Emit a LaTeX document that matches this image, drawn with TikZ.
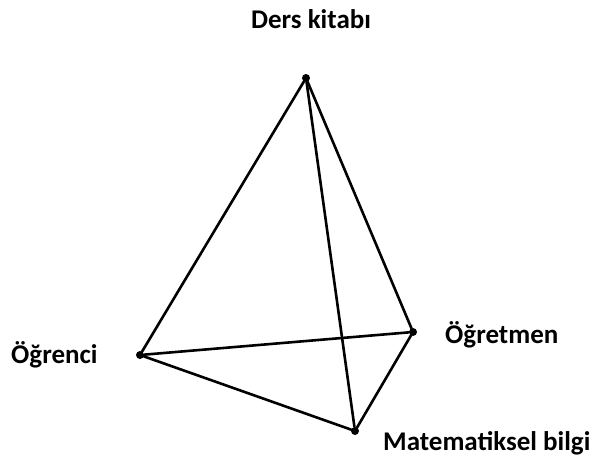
\documentclass[tikz,border=0pt]{standalone}
\usepackage{fontspec}
\setmainfont{Carlito}
\begin{document}
\begin{tikzpicture}[x=1pt,y=-1pt,
  vert/.style={circle,fill=black,inner sep=0pt,minimum size=8pt},
  edge/.style={line width=2.6pt,line cap=round,line join=round},
  lab/.style={font=\bfseries\fontsize{27}{31}\selectfont,inner sep=0pt}]
\useasboundingbox (0,0) rectangle (593,466);
\node[vert] (T) at (306,78) {};
\node[vert] (L) at (140,355) {};
\node[vert] (R) at (413,332) {};
\node[vert] (B) at (355,431) {};
\draw[edge] (T) -- (L);
\draw[edge] (T) -- (R);
\draw[edge] (T) -- (B);
\draw[edge] (L) -- (R);
\draw[edge] (L) -- (B);
\draw[edge] (R) -- (B);
\node[lab,anchor=base] (tT) at (311,28) {Ders kitabı};
\node[lab,anchor=base west] (tL) at (11,363) {Öğrenci};
\node[lab,anchor=base west] (tR) at (445,343) {Öğretmen};
\node[lab,anchor=base west] (tB) at (383,450) {Matematiksel bilgi};
\end{tikzpicture}
\end{document}
